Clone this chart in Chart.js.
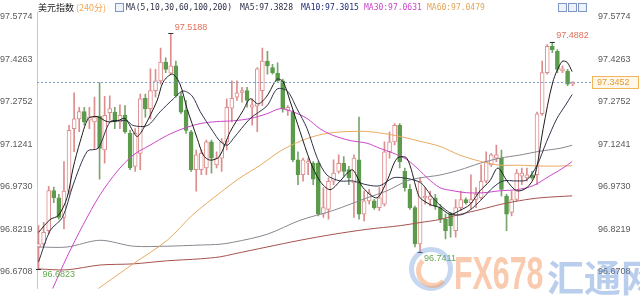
<!DOCTYPE html>
<html>
<head>
<meta charset="utf-8">
<script src="https://cdn.jsdelivr.net/npm/chart.js@4/dist/chart.umd.min.js"></script>
<style>
    body { margin: 0; background: #fff; }
    #wrap { position: relative; width: 640px; height: 300px; overflow: hidden; }
    #chart { position: absolute; left: 0; top: 0; }
    .t { position: absolute; white-space: nowrap; line-height: 1; }
    .mono { font: 8px 'DejaVu Sans Mono'; top: 3px; }
    .ibox { position: absolute; width: 7px; height: 7px; border: 1px solid #7f95c4; background: #eef2fb; }
</style>
</head>
<body>
<div id="wrap">
    <canvas id="chart" width="640" height="300"></canvas>

    <!-- header -->
    <div class="t" style="left:38px;top:1px;font:9px 'Noto Sans CJK SC';color:#222">美元指数</div>
    <div class="t" style="left:76px;top:1px;font:9px 'Noto Sans CJK SC';color:#f2a654">(240分)</div>
    <div class="ibox" style="left:115px;top:3px"></div>
    <div class="t mono" style="left:126px;color:#2a2f45">MA(5,10,30,60,100,200)</div>
    <div class="t mono" style="left:240px;color:#2a2f45">MA5:97.3828</div>
    <div class="t mono" style="left:301px;color:#1f2d78">MA10:97.3015</div>
    <div class="t mono" style="left:364px;color:#cc44cc">MA30:97.0631</div>
    <div class="t mono" style="left:427px;color:#e3a55a">MA60:97.0479</div>
    <div class="ibox" style="left:558px;top:3px"></div>
    <div class="ibox" style="left:568px;top:3px"></div>
    <div class="ibox" style="left:578px;top:3px"></div>

    <!-- watermark -->
    <div style="position:absolute;left:409px;top:247px;width:34px;height:34px;border-radius:50%;border:5px solid rgba(110,155,220,0.4)"></div>
    <div style="position:absolute;left:416px;top:254px;width:24px;height:24px;border-radius:50%;border:5px solid rgba(245,155,100,0.5);border-top-color:transparent;border-right-color:transparent"></div>
    <div class="t" style="left:454px;top:246px;font:bold 46px 'Liberation Sans';color:rgba(245,150,95,0.5);transform:scaleX(0.66);transform-origin:left top">FX678</div>
    <div class="t" style="left:547px;top:249px;font:bold 37px 'Noto Sans CJK SC';color:rgba(100,145,215,0.45)">汇通网</div>
</div>
<script>
// 240-minute candles
var open = [96.759, 96.770, 96.817, 96.960, 96.934, 96.864, 96.958, 97.180, 97.215, 97.241,
    97.210, 97.204, 97.225, 97.104, 97.237, 97.239, 97.204, 97.227, 97.163, 97.046,
    97.092, 97.288, 97.251, 97.315, 97.350, 97.417, 97.377, 97.403, 97.297, 97.245,
    97.169, 97.034, 97.034, 97.040, 97.133, 97.051, 97.075, 97.133, 97.253, 97.292,
    97.309, 97.315, 97.256, 97.260, 97.315, 97.420, 97.397, 97.377, 97.350, 97.245,
    97.239, 97.069, 97.016, 97.057, 97.057, 97.057, 96.876, 96.893, 96.993, 97.028,
    97.057, 97.034, 96.987, 97.069, 96.876, 96.923, 96.923, 96.899, 96.911, 97.098,
    97.133, 97.192, 97.028, 96.964, 96.899, 96.770, 96.934, 96.928, 96.934, 96.899,
    96.858, 96.876, 96.817, 96.899, 96.928, 96.917, 96.928, 96.934, 96.993, 97.051,
    97.075, 97.075, 96.940, 96.882, 96.928, 97.011, 97.005, 97.016, 97.016, 97.233,
    97.379, 97.473, 97.455, 97.385, 97.385, 97.338]
var high = [96.835, 96.847, 96.975, 96.972, 96.946, 97.063, 97.192, 97.307, 97.256, 97.256,
    97.256, 97.292, 97.344, 97.295, 97.297, 97.256, 97.265, 97.262, 97.174, 97.180,
    97.303, 97.303, 97.393, 97.391, 97.467, 97.432, 97.5188, 97.420, 97.309, 97.280,
    97.174, 97.104, 97.104, 97.139, 97.139, 97.098, 97.145, 97.286, 97.350, 97.350,
    97.327, 97.327, 97.286, 97.397, 97.467, 97.455, 97.409, 97.414, 97.356, 97.262,
    97.245, 97.098, 97.075, 97.075, 97.063, 97.063, 96.970, 97.005, 97.069, 97.087,
    97.081, 97.046, 97.087, 97.221, 96.958, 96.964, 96.929, 96.970, 97.133, 97.169,
    97.198, 97.198, 97.040, 96.981, 96.905, 97.005, 96.970, 96.958, 96.946, 96.911,
    96.876, 96.882, 96.928, 96.958, 96.934, 97.016, 96.970, 97.051, 97.098, 97.092,
    97.122, 97.104, 96.946, 96.958, 97.034, 97.040, 97.040, 97.028, 97.239, 97.420,
    97.479, 97.4882, 97.461, 97.403, 97.391, 97.347]
var low = [96.6823, 96.759, 96.806, 96.917, 96.858, 96.823, 96.946, 97.098, 97.169, 97.192,
    97.180, 97.110, 97.000, 97.057, 97.210, 97.180, 97.180, 97.163, 97.034, 97.028,
    97.034, 97.221, 97.215, 97.292, 97.338, 97.379, 97.374, 97.292, 97.233, 97.163,
    97.028, 96.958, 97.016, 97.016, 97.022, 97.040, 97.028, 97.104, 97.204, 97.280,
    97.274, 97.256, 97.192, 97.169, 97.262, 97.374, 97.374, 97.344, 97.239, 97.227,
    97.063, 96.981, 96.993, 97.016, 96.981, 96.870, 96.864, 96.858, 96.981, 97.022,
    97.011, 96.981, 96.864, 96.858, 96.852, 96.911, 96.893, 96.888, 96.905, 97.075,
    97.122, 97.040, 96.958, 96.893, 96.759, 96.7411, 96.911, 96.905, 96.893, 96.846,
    96.788, 96.794, 96.794, 96.888, 96.911, 96.893, 96.899, 96.928, 96.987, 97.046,
    97.063, 96.940, 96.817, 96.870, 96.923, 96.981, 96.993, 97.000, 96.981, 97.227,
    97.374, 97.450, 97.379, 97.379, 97.333, 97.333]
var close = [96.770, 96.811, 96.960, 96.934, 96.864, 96.958, 97.174, 97.215, 97.241, 97.204,
    97.221, 97.221, 97.110, 97.227, 97.251, 97.204, 97.227, 97.169, 97.040, 97.163,
    97.286, 97.251, 97.315, 97.350, 97.417, 97.391, 97.403, 97.297, 97.239, 97.174,
    97.034, 97.087, 97.092, 97.133, 97.075, 97.075, 97.133, 97.256, 97.288, 97.307,
    97.315, 97.280, 97.265, 97.393, 97.420, 97.403, 97.379, 97.350, 97.251, 97.256,
    97.069, 97.016, 97.069, 97.063, 97.000, 96.876, 96.899, 96.993, 97.022, 97.057,
    97.028, 97.005, 97.075, 96.876, 96.923, 96.952, 96.899, 96.934, 97.098, 97.133,
    97.192, 97.063, 96.970, 96.899, 96.770, 96.993, 96.940, 96.940, 96.905, 96.858,
    96.817, 96.835, 96.899, 96.928, 96.917, 96.928, 96.946, 96.993, 97.063, 97.087,
    97.087, 96.964, 96.876, 96.928, 97.022, 97.022, 97.016, 97.005, 97.233, 97.379,
    97.473, 97.461, 97.391, 97.393, 97.338, 97.3452]

// moving averages: [candle index, value] sampled along each line
var ma5 = [[0, 96.811], [2.3, 96.857], [3.9, 96.871], [5.6, 96.934], [6.8, 97.040], [8.2, 97.135],
    [9.8, 97.216], [11.5, 97.223], [13.5, 97.205], [15.5, 97.208], [17, 97.216], [18.6, 97.170],
    [19.4, 97.152], [20.6, 97.180], [23.3, 97.279], [24.5, 97.346], [26.3, 97.374], [27.8, 97.339],
    [29.2, 97.251], [31.2, 97.145], [32.4, 97.086], [33.7, 97.068], [35.5, 97.080], [37.7, 97.170],
    [40.2, 97.244], [41.6, 97.286], [43.2, 97.268], [44.9, 97.296], [46.9, 97.356], [48.1, 97.346],
    [49.5, 97.275], [51.4, 97.170], [53.4, 97.064], [55.3, 96.994], [57.3, 96.963], [59.3, 96.994],
    [60.7, 97.022], [61.8, 97.033], [63.8, 96.970], [66.5, 96.934], [68.5, 96.994], [70.5, 97.075],
    [72.4, 97.075], [74.4, 96.959], [75, 96.934], [77, 96.910], [78.9, 96.899], [80.9, 96.875],
    [82.8, 96.889], [84.8, 96.910], [86.8, 96.959], [88.7, 96.994], [90.3, 97.040], [92.1, 96.994],
    [94, 96.959], [96, 96.970], [97.6, 97.015], [99.2, 97.180], [101.1, 97.346], [102.9, 97.419],
    [103.9, 97.416], [104.9, 97.3828]]
var ma10 = [[0, 96.706], [2.3, 96.818], [4.7, 96.864], [6.8, 96.980], [9.6, 97.100], [11.7, 97.110],
    [14.1, 97.205], [16.1, 97.208], [17.4, 97.208], [18.6, 97.191], [21.4, 97.191], [23.9, 97.240],
    [26.5, 97.286], [28.4, 97.314], [30.2, 97.296], [31.8, 97.240], [34.3, 97.170], [35.7, 97.135],
    [37.1, 97.121], [38.3, 97.145], [41.6, 97.216], [44.9, 97.261], [46.9, 97.321], [48.9, 97.314],
    [50.8, 97.251], [52.8, 97.180], [54.8, 97.075], [56.7, 97.015], [59.3, 96.994], [61.8, 96.994],
    [64.6, 96.980], [67.1, 96.977], [69.7, 97.005], [71.7, 97.005], [74.4, 96.994], [75.6, 96.980],
    [77.5, 96.934], [79.5, 96.899], [81.5, 96.875], [83.4, 96.875], [85.4, 96.899], [87.4, 96.934],
    [89.3, 96.970], [91.3, 96.994], [94, 96.994], [96, 96.998], [98, 97.050], [99.9, 97.135],
    [101.9, 97.216], [103.5, 97.261], [104.9, 97.3015]]
var ma30 = [[2.7, 96.608], [5.6, 96.724], [8.8, 96.839], [12.1, 96.945], [15.5, 97.029], [18.6, 97.086],
    [21.9, 97.121], [25.3, 97.156], [28.4, 97.180], [31.8, 97.198], [35, 97.205], [38.3, 97.208],
    [41.6, 97.216], [44.9, 97.233], [47.5, 97.251], [50, 97.240], [52.8, 97.216], [55.3, 97.180],
    [57.9, 97.156], [61.2, 97.138], [64.6, 97.128], [67.1, 97.110], [69.7, 97.093], [72.4, 97.070],
    [75, 97.030], [76.4, 97.005], [78.9, 96.970], [81.5, 96.959], [84.2, 96.952], [87.4, 96.952],
    [90.7, 96.959], [94, 96.963], [97.2, 96.977], [100.5, 97.012], [103.1, 97.040], [104.9, 97.0631]]
var ma60 = [[11.5, 96.608], [18.6, 96.699], [25.3, 96.783], [30.4, 96.875], [35.7, 96.952],
    [39.6, 97.005], [43.6, 97.050], [47.5, 97.100], [51.4, 97.135], [54.8, 97.156], [57.9, 97.166],
    [61.2, 97.170], [64.6, 97.170], [67.7, 97.163], [71.1, 97.152], [75, 97.135], [78.9, 97.117],
    [82.8, 97.086], [86.8, 97.064], [90.7, 97.050], [94.6, 97.050], [98.6, 97.047], [102.5, 97.047],
    [104.9, 97.0479]]
var ma100 = [[0, 96.759], [5.6, 96.759], [12.1, 96.783], [18.6, 96.762], [25.3, 96.762], [31.8, 96.766],
    [35.7, 96.769], [38.3, 96.776], [44.9, 96.804], [51.4, 96.854], [57.9, 96.889], [64.6, 96.934],
    [68.5, 96.959], [72.4, 96.994], [75, 97.005], [78.9, 97.015], [82.8, 97.033], [86.8, 97.057],
    [90.7, 97.075], [94.6, 97.086], [98.6, 97.100], [102.5, 97.110], [104.9, 97.121]]
var ma200 = [[0, 96.681], [5.6, 96.678], [12.1, 96.695], [18.6, 96.699], [25.3, 96.710], [31.8, 96.717],
    [35.7, 96.724], [38.3, 96.734], [44.9, 96.759], [51.4, 96.783], [57.9, 96.804], [64.6, 96.822],
    [71.1, 96.835], [75, 96.846], [78.9, 96.857], [82.8, 96.875], [86.8, 96.892], [90.7, 96.910],
    [94.6, 96.924], [98.6, 96.934], [104.9, 96.941]]

var yTicks = [96.6708, 96.8219, 96.9730, 97.1241, 97.2752, 97.4263, 97.5774]
var lastPrice = 97.3452
// highest / lowest marks: candle index, value, above or below
var extremes = [
    {i: 26, v: 97.5188, top: true},
    {i: 101, v: 97.4882, top: true},
    {i: 0, v: 96.6823, top: false},
    {i: 75, v: 96.7411, top: false}
]

var UP = '#dc8d8d'
var DOWN = '#5c9b4b'

var isUp = close.map(function (c, i) { return c >= open[i] })
var wicks = close.map(function (c, i) { return {x: i, y: [low[i], high[i]]} })
var bodies = close.map(function (c, i) { return {x: i, y: [open[i], close[i]]} })

var toPoints = function (arr) {
    return arr.map(function (p) { return {x: p[0], y: p[1]} })
}

var maLine = function (label, arr, color) {
    return {
        type: 'line',
        label: label,
        data: toPoints(arr),
        borderColor: color,
        borderWidth: 1,
        pointRadius: 0,
        tension: 0.3,
        order: 0
    }
}

// dashed last-price line, its box on the right, and the high/low marks
var marksPlugin = {
    id: 'marks',
    afterDatasetsDraw: function (chart) {
        var ctx = chart.ctx
        var xs = chart.scales.x
        var ys = chart.scales.y
        var area = chart.chartArea
        ctx.save()

        var py = Math.round(ys.getPixelForValue(lastPrice)) + 0.5
        ctx.strokeStyle = '#7f9cc0'
        ctx.lineWidth = 1
        ctx.setLineDash([2, 2])
        ctx.beginPath()
        ctx.moveTo(area.left, py)
        ctx.lineTo(area.right, py)
        ctx.stroke()
        ctx.setLineDash([])

        ctx.fillStyle = '#fff8ea'
        ctx.fillRect(area.right, py - 6.5, 47, 12)
        ctx.strokeStyle = '#f1b55a'
        ctx.strokeRect(area.right + 0.5, py - 6, 46, 12)
        ctx.fillStyle = '#e39a35'
        ctx.font = '9px "Liberation Sans"'
        ctx.textBaseline = 'middle'
        ctx.textAlign = 'left'
        ctx.fillText(lastPrice.toFixed(4), area.right + 5, py + 0.5)

        extremes.forEach(function (m) {
            var x = xs.getPixelForValue(m.i)
            var y = ys.getPixelForValue(m.v)
            ctx.strokeStyle = '#333'
            ctx.beginPath()
            ctx.moveTo(x - 2.5, Math.round(y) + 0.5)
            ctx.lineTo(x + 2.5, Math.round(y) + 0.5)
            ctx.stroke()
            ctx.fillStyle = m.top ? '#e0705a' : '#62a94f'
            ctx.font = '9px "Liberation Sans"'
            ctx.fillText(m.v.toFixed(4), x + 4, m.top ? y - 6 : y + 6)
        })
        ctx.restore()
    }
}

var yAxis = function (pos, width) {
    return {
        type: 'linear',
        position: pos,
        min: 96.6111,
        max: 97.5949,
        afterBuildTicks: function (scale) {
            scale.ticks = yTicks.map(function (v) { return {value: v} })
        },
        afterFit: function (scale) { scale.width = width },
        grid: {display: false, drawTicks: false},
        border: {display: pos === 'left', color: '#c9c9c9'},
        ticks: {
            color: '#5a5a5a',
            font: {family: 'Liberation Sans', size: 9},
            padding: 6,
            crossAlign: pos === 'left' ? 'far' : 'near',
            autoSkip: false,
            callback: function (v) { return v.toFixed(4) }
        }
    }
}

new Chart(document.getElementById('chart').getContext('2d'), {
    type: 'bar',
    data: {
        datasets: [
            maLine('MA5', ma5, '#1c1c1c'),
            maLine('MA10', ma10, '#30344a'),
            maLine('MA30', ma30, '#cc46cc'),
            maLine('MA60', ma60, '#e8aa62'),
            maLine('MA100', ma100, '#8a8790'),
            maLine('MA200', ma200, '#a5534e'),
            {
                label: 'body',
                data: bodies,
                grouped: false,
                barThickness: 4,
                minBarLength: 1,
                borderWidth: 1,
                borderSkipped: false,
                backgroundColor: isUp.map(function (u) { return u ? '#ffffff' : DOWN }),
                borderColor: isUp.map(function (u) { return u ? UP : DOWN }),
                order: 1
            },
            {
                label: 'wick',
                data: wicks,
                grouped: false,
                barThickness: 1,
                borderWidth: 0,
                backgroundColor: isUp.map(function (u) { return u ? UP : '#7aa56e' }),
                order: 2
            }
        ]
    },
    options: {
        responsive: false,
        animation: false,
        layout: {padding: {top: 12, bottom: 8, left: 0, right: 0}},
        plugins: {legend: {display: false}, tooltip: {enabled: false}},
        scales: {
            x: {type: 'linear', min: -0.3, max: 108.8, offset: false, display: false},
            y: yAxis('left', 37),
            yr: yAxis('right', 48)
        }
    },
    plugins: [marksPlugin]
})
</script>
</body>
</html>
